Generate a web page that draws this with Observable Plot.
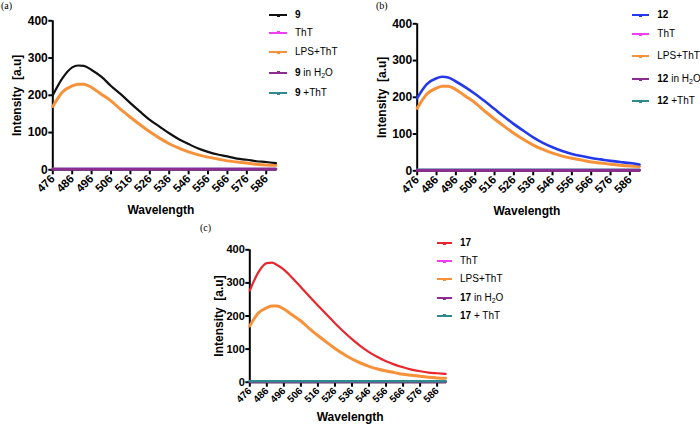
<!DOCTYPE html>
<html><head><meta charset="utf-8">
<script src="https://cdn.jsdelivr.net/npm/d3@7"></script>
<script src="https://cdn.jsdelivr.net/npm/@observablehq/plot@0.6"></script>
<style>
html,body{margin:0;padding:0;background:#fff;}
#root{position:relative;width:700px;height:424px;overflow:hidden;font-family:"Liberation Sans",Arial,sans-serif;color:#000;}
.tag{position:absolute;font-family:"Liberation Serif","Times New Roman",serif;font-size:10px;line-height:10px;}
.legline{position:absolute;height:2px;}
.legdot{position:absolute;width:3px;height:3px;top:-0.5px;}
.legtext{position:absolute;font-size:10px;line-height:12px;white-space:nowrap;transform:translateY(-50%);}
.legtext sub{font-size:7px;line-height:0;vertical-align:-2px;}
</style></head>
<body><div id="root"></div>
<script>
// ---- data ----
const wavelength = [476,481,486,489,492,496,501,506,511,516,521,526,531,536,541,546,551,556,561,566,571,576,581,586,591];
const int9   = [200,246,275,280,279,268,250,225,203,179,156,134,116,98,82,69,57,48,41,36,30,27,23,21,18];
const int12  = [198,236,252,256,254,243,227,209,189,168,147,127,109,91,76,64,54,46,40,35,31,27,24,21,17];
const int17  = [277,332,360,361,354,340,315,287,259,232,205,178,153,130,109,91,76,63,53,45,38,33,29,27,25];
const lpsThT = [170,209,225,230,230,221,203,185,162,141,121,102,85,70,58,48,40,34,29,24,21,18,15,13,12];
const flatWavelength = [476, 591];
const thT = [2, 2];
const a_inH2O = [2, 2], a_plusThT = [2, 2];
const b_inH2O = [1, 1], b_plusThT = [3, 3];
const c_inH2O = [1, 1], c_plusThT = [3, 3];
const xTicks = [476,486,496,506,516,526,536,546,556,566,576,586];
const yTicks = [0,100,200,300,400];

const COL = {c9:"#111111", c12:"#2339ea", c17:"#e8262e", tht:"#f23df2", lps:"#f7923a", h2o:"#8c2d91", plus:"#2f8a8c"};
const FONT = '"Liberation Sans", Arial, sans-serif';
const root = document.getElementById("root");

function series(xs, ys){ return xs.map((x,i)=>({x, y: ys[i]})); }

function panel(cfg){
  const {left, top, width, height, x0, x1, yTop, yZero} = cfg;
  const lines = cfg.lines.map(l => Plot.line(series(l.xs, l.ys), {x:"x", y:"y", stroke:l.color, strokeWidth:l.w, curve:"monotone-x"}));
  const p = Plot.plot({
    width, height,
    marginLeft: x0-left, marginRight: left+width-x1, marginTop: yTop-top, marginBottom: top+height-yZero,
    x:{domain:[476,591.5]}, y:{domain:[0,400]},
    style:{fontFamily:FONT, background:"transparent", overflow:"visible", color:"#000"},
    marks:[
      Plot.axisY({ticks:yTicks, tickSize:4, tickPadding:1, strokeWidth:2, fontSize:cfg.yFont, fontWeight:"bold", label:null, fill:"#000"}),
      Plot.axisX({ticks:xTicks, tickSize:5, tickPadding:2, strokeWidth:2, tickRotate:-45, fontSize:cfg.xFont, fontWeight:"bold", label:null, fill:"#000", tickFormat:d=>String(d)}),
      Plot.ruleX([476], {strokeWidth:2, stroke:"#000"}),
      Plot.ruleY([0], {strokeWidth:2, stroke:"#000"}),
      ...lines,
      Plot.text(["Intensity  [a.u]"], {text:d=>d, frameAnchor:"left", textAnchor:"middle", lineAnchor:"middle", rotate:-90, dx:cfg.yLabDx, fontSize:12, fontWeight:"bold", fill:"#000"}),
      Plot.text(["Wavelength"], {text:d=>d, frameAnchor:"bottom", textAnchor:"middle", lineAnchor:"middle", dy:cfg.xLabDy, dx:cfg.xLabDx||0, fontSize:12, fontWeight:"bold", fill:"#000"})
    ]
  });
  p.style.position="absolute"; p.style.left=left+"px"; p.style.top=top+"px";
  root.appendChild(p);

  // legend
  cfg.legend.forEach((it,i)=>{
    const y = cfg.legRows[i];
    const ln = document.createElement("div");
    ln.className="legline";
    ln.style.left=cfg.legX0+"px"; ln.style.top=(y-1)+"px"; ln.style.width=(cfg.legX1-cfg.legX0)+"px"; ln.style.background=it.color;
    const dot=document.createElement("div"); dot.className="legdot"; dot.style.background=it.color;
    dot.style.left=((cfg.legX1-cfg.legX0)/2-1.5)+"px"; ln.appendChild(dot);
    root.appendChild(ln);
    const tx=document.createElement("div"); tx.className="legtext";
    tx.style.left=cfg.legTx+"px"; tx.style.top=y+"px"; tx.innerHTML=it.html;
    root.appendChild(tx);
  });
  const tag=document.createElement("div"); tag.className="tag"; tag.textContent=cfg.tag;
  tag.style.left=cfg.tagX+"px"; tag.style.top=cfg.tagY+"px"; root.appendChild(tag);
}

function legendItems(n, color, plusLabel){
  return [
    {color, html:`<b>${n}</b>`},
    {color:COL.tht, html:"ThT"},
    {color:COL.lps, html:"LPS+ThT"},
    {color:COL.h2o, html:`<b>${n}</b> in H<sub>2</sub>O`},
    {color:COL.plus, html:`<b>${n}</b> ${plusLabel}`}
  ];
}

panel({
  tag:"(a)", tagX:1, tagY:1,
  left:0, top:0, width:300, height:225, x0:52.3, x1:276.4, yTop:20.3, yZero:169.3,
  yFont:12, xFont:11.5, yLabDx:-35.6, xLabDy:40.5, xLabDx:-4,
  lines:[
    {xs:flatWavelength, ys:thT, color:COL.tht, w:2.5},
    {xs:flatWavelength, ys:a_plusThT, color:COL.plus, w:2.5},
    {xs:flatWavelength, ys:a_inH2O, color:COL.h2o, w:2.8},
    {xs:wavelength, ys:lpsThT, color:COL.lps, w:3},
    {xs:wavelength, ys:int9, color:COL.c9, w:2.2}
  ],
  legend:legendItems("9", COL.c9, "+ThT"),
  legX0:269.3, legX1:287.3, legTx:295, legRows:[15,32.7,52,72.7,93.3]
});

panel({
  tag:"(b)", tagX:376, tagY:1,
  left:360, top:0, width:300, height:225, x0:416.7, x1:640, yTop:23.3, yZero:170.3,
  yFont:12, xFont:11.5, yLabDx:-35, xLabDy:40, xLabDx:-2,
  lines:[
    {xs:flatWavelength, ys:thT, color:COL.tht, w:2.5},
    {xs:flatWavelength, ys:b_plusThT, color:COL.plus, w:2.5},
    {xs:flatWavelength, ys:b_inH2O, color:COL.h2o, w:2.8},
    {xs:wavelength, ys:lpsThT, color:COL.lps, w:3},
    {xs:wavelength, ys:int12, color:COL.c12, w:2.6}
  ],
  legend:legendItems("12", COL.c12, "+ThT"),
  legX0:631.7, legX1:649, legTx:657.3, legRows:[15,34.3,56,79.3,101]
});

panel({
  tag:"(c)", tagX:200, tagY:223,
  left:195, top:225, width:270, height:199, x0:249.3, x1:446, yTop:249.3, yZero:381.7,
  yFont:11, xFont:10, yLabDx:-31, xLabDy:35, xLabDx:2,
  lines:[
    {xs:flatWavelength, ys:thT, color:COL.tht, w:2.5},
    {xs:flatWavelength, ys:c_inH2O, color:COL.h2o, w:2.8},
    {xs:flatWavelength, ys:c_plusThT, color:COL.plus, w:2.6},
    {xs:wavelength, ys:lpsThT, color:COL.lps, w:3},
    {xs:wavelength, ys:int17, color:COL.c17, w:2.2}
  ],
  legend:legendItems("17", COL.c17, "+ ThT"),
  legX0:437, legX1:452, legTx:460, legRows:[243.3,261,279.3,298.3,315.7]
});
</script></body></html>
